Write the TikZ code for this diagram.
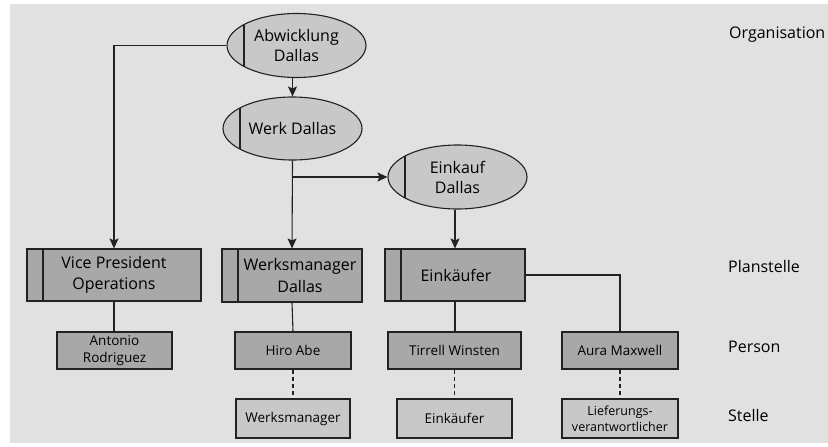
\documentclass[tikz,border=0pt]{standalone}
\usepackage{fontspec}
\setmainfont{Open Sans}
\usetikzlibrary{shapes.geometric,arrows.meta}
\definecolor{bggray}{HTML}{E1E1E1}
\definecolor{lightfill}{HTML}{C8C8C8}
\definecolor{darkfill}{HTML}{A8A8A8}
\definecolor{edge}{HTML}{222222}
\tikzset{
  orgunit/.style={ellipse, draw=edge, fill=lightfill, line width=1.1pt,
    minimum width=139pt, minimum height=64pt, inner sep=0pt, align=center,
    font=\fontsize{16}{20}\selectfont,
    path picture={\draw[edge, line width=1.1pt]
      ([xshift=17pt]path picture bounding box.north west) --
      ([xshift=17pt]path picture bounding box.south west);}},
  planbox/.style={rectangle, draw=edge, fill=darkfill, line width=1.1pt,
    minimum height=52pt, inner sep=0pt, align=center,
    font=\fontsize{16}{21.5}\selectfont,
    path picture={\draw[edge, line width=1.1pt]
      ([xshift=16pt]path picture bounding box.north west) --
      ([xshift=16pt]path picture bounding box.south west);}},
  personbox/.style={rectangle, draw=edge, fill=darkfill, line width=1.1pt,
    minimum height=37pt, inner sep=0pt, align=center,
    font=\fontsize{13.5}{16.5}\selectfont},
  jobbox/.style={rectangle, draw=edge, fill=lightfill, line width=1.1pt,
    minimum height=39pt, inner sep=0pt, align=center,
    font=\fontsize{13.5}{16.5}\selectfont},
  levellabel/.style={anchor=west, inner sep=0pt, font=\fontsize{16}{18}\selectfont},
  link/.style={draw=edge, line width=1.1pt},
  arr/.style={link, -{Stealth[length=10pt, width=9pt, inset=2pt]}},
  dashlink/.style={link, dash pattern=on 4pt off 3pt},
}
\begin{document}
\begin{tikzpicture}[x=1pt, y=-1pt]
  % canvas
  \fill[white] (0,0) rectangle (828,447);
  \useasboundingbox (0,0) rectangle (828,447);
  \fill[bggray] (10,4) rectangle (828,443);

  % organisational units
  \node[orgunit] (abw)  at (296.5,45.5) {Abwicklung\\Dallas};
  \node[orgunit, minimum height=63pt] (werk) at (292.5,128.5) {Werk Dallas};
  \node[orgunit] (eink) at (457.5,177) {Einkauf\\Dallas};

  % positions
  \node[planbox, minimum width=174pt] (vp)  at (114,275) {Vice President\\Operations};
  \node[planbox, minimum width=140pt, minimum height=53pt] (wmd) at (292,275.5) {};
  \node[inner sep=0pt, align=center, font=\fontsize{16}{21.5}\selectfont] (wmdtext)
    at (300,275.5) {Werksmanager\\Dallas};
  \node[planbox, minimum width=140pt] (ekf) at (455,275) {\hspace*{2pt}Einkäufer};

  % persons
  \node[personbox, minimum width=115pt] (antonio) at (114.5,350.5) {Antonio\\Rodriguez};
  \node[personbox, minimum width=116pt] (hiro)    at (293,350.5) {Hiro Abe};
  \node[personbox, minimum width=133pt] (tirrell) at (454.5,350.5) {Tirrell Winsten};
  \node[personbox, minimum width=116pt] (aura)    at (620,350.5) {Aura Maxwell};

  % jobs
  \node[jobbox, minimum width=114pt] (wm)   at (293,418.5) {Werksmanager};
  \node[jobbox, minimum width=115pt] (ek)   at (454.5,418.5) {Einkäufer};
  \node[jobbox, minimum width=116pt, font=\fontsize{12.5}{16}\selectfont] (lief)
    at (620,418.5) {Lieferungs-\\verantwortlicher};

  % level captions
  \node[levellabel] (lorg)  at (729,35)  {Organisation};
  \node[levellabel] (lplan) at (728,266) {Planstelle};
  \node[levellabel] (lpers) at (728,347) {Person};
  \node[levellabel] (lst)   at (728,415) {Stelle};

  % hierarchy arrows
  \draw[arr] (abw.west) -| (vp.north);
  \draw[arr] (werk.north |- abw.south) -- (werk.north);
  \draw[arr] (werk.south) -- (wmd.north);
  \coordinate (branch) at (292.5,177);
  \draw[arr] (branch) -- (eink.west);
  \draw[arr] (ekf.north |- eink.south) -- (ekf.north);

  % holders
  \draw[link] (vp.south) -- (antonio.north -| vp.south);
  \draw[link] (wmd.south) -- (hiro.north);
  \draw[link] (ekf.south) -- (tirrell.north -| ekf.south);
  \draw[link] (ekf.east) -| (aura.north);

  % job assignments
  \draw[dashlink] (hiro.south) -- (wm.north);
  \draw[dashlink] (tirrell.south) -- (ek.north);
  \draw[dashlink] (aura.south) -- (lief.north);
\end{tikzpicture}
\end{document}
